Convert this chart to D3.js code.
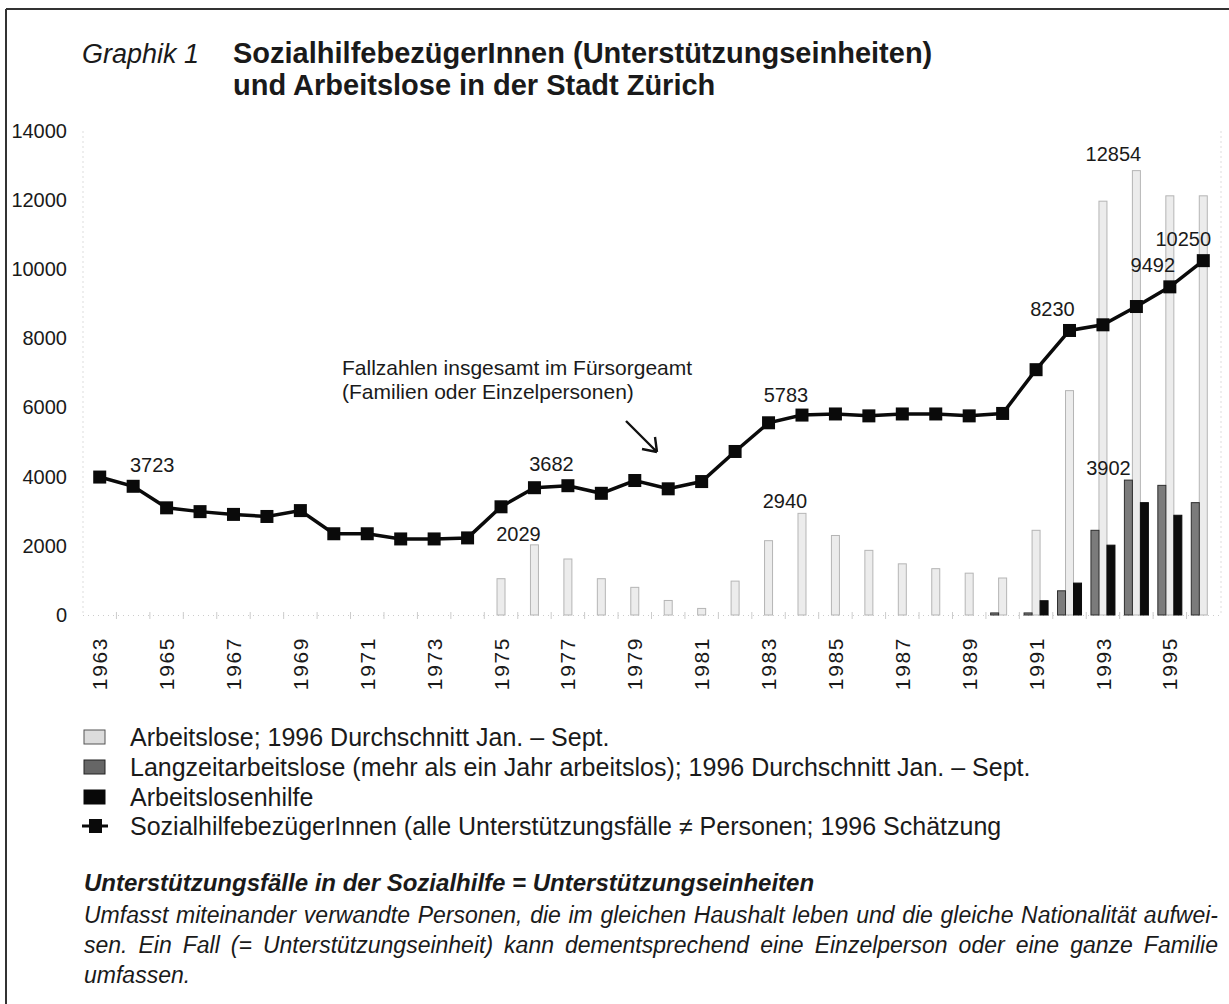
<!DOCTYPE html>
<html>
<head>
<meta charset="utf-8">
<script src="https://cdn.jsdelivr.net/npm/d3@7"></script>
<style>
  body { margin: 0; background: #fff; }
  text { font-family: "Liberation Sans", Arial, sans-serif; fill: #1a1a1a; }
</style>
</head>
<body>
<script>
// years on the x axis
var years = [1963, 1964, 1965, 1966, 1967, 1968, 1969, 1970, 1971, 1972, 1973, 1974,
	1975, 1976, 1977, 1978, 1979, 1980, 1981, 1982, 1983, 1984, 1985, 1986,
	1987, 1988, 1989, 1990, 1991, 1992, 1993, 1994, 1995, 1996];
// SozialhilfebezügerInnen (Unterstützungseinheiten)
var sozialhilfe = [3990, 3723, 3100, 2990, 2910, 2850, 3020, 2350, 2350, 2200, 2200, 2230,
	3130, 3682, 3740, 3520, 3890, 3650, 3860, 4730, 5560, 5783, 5815, 5760,
	5815, 5815, 5760, 5830, 7096, 8230, 8394, 8923, 9492, 10250];
// Arbeitslose
var arbeitslose = [null, null, null, null, null, null, null, null, null, null, null, null,
	1050, 2029, 1620, 1050, 800, 420, 190, 980, 2150, 2940, 2300, 1870,
	1480, 1340, 1210, 1070, 2450, 6490, 11970, 12854, 12125, 12125];
// Langzeitarbeitslose
var langzeit = [null, null, null, null, null, null, null, null, null, null, null, null,
	null, null, null, null, null, null, null, null, null, null, null, null,
	null, null, null, 60, 60, 700, 2450, 3902, 3750, 3250];
// Arbeitslosenhilfe
var alHilfe = [null, null, null, null, null, null, null, null, null, null, null, null,
	null, null, null, null, null, null, null, null, null, null, null, null,
	null, null, null, null, 413, 923, 2020, 3250, 2885, null];
var yTicks = [0, 2000, 4000, 6000, 8000, 10000, 12000, 14000];
var xLabelYears = [1963, 1965, 1967, 1969, 1971, 1973, 1975, 1977, 1979, 1981, 1983, 1985, 1987, 1989, 1991, 1993, 1995];

// which values get a number printed next to them
var labelled = [
	{ series: "line", year: 1964 }, { series: "line", year: 1976 }, { series: "line", year: 1984 },
	{ series: "line", year: 1992 }, { series: "line", year: 1995 }, { series: "line", year: 1996 },
	{ series: "al", year: 1976 }, { series: "al", year: 1984 }, { series: "al", year: 1994 },
	{ series: "lz", year: 1994 }
];
// where those numbers sit relative to their mark (px, baseline)
var labelOffset = [[19, -14], [17, -17], [-16, -13], [-17, -14], [-17, -15], [-20, -15],
	[-16, -4], [-17, -5], [-23, -10], [-20, -5]];

var legendItems = [
	"Arbeitslose; 1996 Durchschnitt Jan. – Sept.",
	"Langzeitarbeitslose (mehr als ein Jahr arbeitslos); 1996 Durchschnitt Jan. – Sept.",
	"Arbeitslosenhilfe",
	"SozialhilfebezügerInnen (alle Unterstützungsfälle ≠ Personen; 1996 Schätzung"
];
var noteTitle = "Unterstützungsfälle in der Sozialhilfe = Unterstützungseinheiten";
var noteLines = [
	"Umfasst miteinander verwandte Personen, die im gleichen Haushalt leben und die gleiche Nationalität aufwei-",
	"sen. Ein Fall (= Unterstützungseinheit) kann dementsprechend eine Einzelperson oder eine ganze Familie",
	"umfassen."
];

var W = 1229, H = 1004;
var svg = d3.select("body").append("svg")
	.attr("width", W)
	.attr("height", H);

// frame
svg.append("line").attr("x1", 6).attr("x2", W).attr("y1", 9).attr("y2", 9)
	.attr("stroke", "#333").attr("stroke-width", 2);
svg.append("line").attr("x1", 6).attr("x2", 6).attr("y1", 9).attr("y2", H)
	.attr("stroke", "#333").attr("stroke-width", 2);

// title
svg.append("text").attr("x", 82).attr("y", 63)
	.style("font-size", "27px").style("font-style", "italic")
	.text("Graphik 1");
svg.append("text").attr("x", 233).attr("y", 63)
	.style("font-size", "29px").style("font-weight", "bold")
	.text("SozialhilfebezügerInnen (Unterstützungseinheiten)");
svg.append("text").attr("x", 233).attr("y", 95)
	.style("font-size", "29px").style("font-weight", "bold")
	.text("und Arbeitslose in der Stadt Zürich");

var x = d3.scaleBand().domain(years).range([83, 1220]).padding(0);
var y = d3.scaleLinear().domain([0, 14000]).range([615, 131]);
var bw = x.bandwidth();
function cx(yr) { return x(yr) + bw / 2; }

// faint frame of plot area
svg.append("line").attr("x1", 83).attr("x2", 83).attr("y1", 131).attr("y2", 615)
	.attr("stroke", "#ddd").attr("stroke-dasharray", "2,3");
svg.append("line").attr("x1", 1221).attr("x2", 1221).attr("y1", 131).attr("y2", 615)
	.attr("stroke", "#ddd").attr("stroke-dasharray", "2,3");
svg.append("line").attr("x1", 83).attr("x2", 1221).attr("y1", 615.5).attr("y2", 615.5)
	.attr("stroke", "#ccc").attr("stroke-dasharray", "1,4");

// y axis labels
var yAxis = d3.axisLeft(y).tickValues(yTicks).tickFormat(d3.format("d")).tickSize(0).tickPadding(0);
svg.append("g").attr("transform", "translate(67,0)").call(yAxis)
	.call(function (g) { g.select(".domain").remove(); })
	.selectAll("text")
	.style("font-size", "20px")
	.attr("fill", "#1a1a1a");

// x axis ticks and rotated labels
var xAxis = d3.axisBottom(x).tickValues(xLabelYears).tickSize(0).tickPadding(0);
var gx = svg.append("g").attr("transform", "translate(0,615)").call(xAxis);
gx.select(".domain").remove();
gx.selectAll("text")
	.style("font-size", "21px")
	.style("letter-spacing", "1.6px")
	.attr("fill", "#1a1a1a")
	.attr("text-anchor", "end")
	.attr("dy", "0.36em")
	.attr("transform", "translate(0,22) rotate(-90)")
	.attr("x", 0).attr("y", 0);
svg.append("g").selectAll("line")
	.data(years.slice(1))
	.join("line")
	.attr("x1", function (d) { return x(d); }).attr("x2", function (d) { return x(d); })
	.attr("y1", 612).attr("y2", 619)
	.attr("stroke", "#ccc");

function barData(vals) {
	return years.map(function (yr, i) { return { year: yr, v: vals[i] }; })
		.filter(function (d) { return d.v != null; });
}
var barW = 8;
var barSeries = [
	{ vals: arbeitslose, off: 0, fill: "#ececec", stroke: "#b5b5b5" },
	{ vals: langzeit, off: -8, fill: "#7b7b7b", stroke: "#2e2e2e" },
	{ vals: alHilfe, off: 8, fill: "#0c0c0c", stroke: "#0c0c0c" }
];
barSeries.forEach(function (s) {
	svg.append("g").selectAll("rect")
		.data(barData(s.vals))
		.join("rect")
		.attr("x", function (d) { return cx(d.year) + s.off - barW / 2; })
		.attr("y", function (d) { return y(d.v); })
		.attr("width", barW)
		.attr("height", function (d) { return Math.max(1.5, y(0) - y(d.v)); })
		.attr("fill", s.fill)
		.attr("stroke", s.stroke)
		.attr("stroke-width", 1);
});

// the line
var lineData = years.map(function (yr, i) { return { year: yr, v: sozialhilfe[i] }; });
svg.append("path")
	.datum(lineData)
	.attr("d", d3.line().x(function (d) { return cx(d.year); }).y(function (d) { return y(d.v); }))
	.attr("fill", "none")
	.attr("stroke", "#0a0a0a")
	.attr("stroke-width", 3.5);
var ms = 13;
svg.append("g").selectAll("rect")
	.data(lineData)
	.join("rect")
	.attr("x", function (d) { return cx(d.year) - ms / 2; })
	.attr("y", function (d) { return y(d.v) - ms / 2; })
	.attr("width", ms).attr("height", ms)
	.attr("fill", "#0a0a0a");

// value labels
var seriesVals = { line: sozialhilfe, al: arbeitslose, lz: langzeit };
var seriesOff = { line: 0, al: 0, lz: -8 };
svg.append("g").selectAll("text")
	.data(labelled)
	.join("text")
	.attr("x", function (d, i) { return cx(d.year) + seriesOff[d.series] + labelOffset[i][0]; })
	.attr("y", function (d, i) { return y(seriesVals[d.series][years.indexOf(d.year)]) + labelOffset[i][1]; })
	.attr("text-anchor", "middle")
	.style("font-size", "20px")
	.text(function (d) { return seriesVals[d.series][years.indexOf(d.year)]; });

// annotation
svg.append("text").attr("x", 342).attr("y", 375).style("font-size", "21px")
	.text("Fallzahlen insgesamt im Fürsorgeamt");
svg.append("text").attr("x", 342).attr("y", 399).style("font-size", "21px")
	.text("(Familien oder Einzelpersonen)");
svg.append("path")
	.attr("d", "M626,421 L657,452 M657,452 L642,449 M657,452 L655,437")
	.attr("fill", "none").attr("stroke", "#111").attr("stroke-width", 2.4);

// legend
var ly = [737, 767, 797, 826];
var sw = [{ fill: "#dcdcdc", stroke: "#555" }, { fill: "#666", stroke: "#222" }, { fill: "#080808", stroke: "#080808" }];
sw.forEach(function (s, i) {
	svg.append("rect").attr("x", 84).attr("y", ly[i] - 7).attr("width", 21).attr("height", 14)
		.attr("fill", s.fill).attr("stroke", s.stroke).attr("stroke-width", 1);
});
svg.append("line").attr("x1", 82).attr("x2", 108).attr("y1", ly[3]).attr("y2", ly[3])
	.attr("stroke", "#0a0a0a").attr("stroke-width", 3);
svg.append("rect").attr("x", 89).attr("y", ly[3] - 7).attr("width", 13).attr("height", 14).attr("fill", "#0a0a0a");
svg.append("g").selectAll("text")
	.data(legendItems)
	.join("text")
	.attr("x", 130)
	.attr("y", function (d, i) { return ly[i] + 9; })
	.style("font-size", "25px")
	.text(function (d) { return d; });

// note
svg.append("text").attr("x", 84).attr("y", 891)
	.style("font-size", "24px").style("font-weight", "bold").style("font-style", "italic")
	.text(noteTitle);
svg.append("g").selectAll("text")
	.data(noteLines)
	.join("text")
	.attr("x", 84)
	.attr("y", function (d, i) { return 923 + i * 30; })
	.style("font-size", "23px").style("font-style", "italic")
	.text(function (d) { return d; })
	.each(function (d, i) {
		if (i === noteLines.length - 1) return;
		var el = d3.select(this);
		var target = 1218 - 84;
		var len = this.getComputedTextLength();
		var gaps = d.split(" ").length - 1;
		el.style("word-spacing", ((target - len) / gaps) + "px");
	});
</script>
</body>
</html>
